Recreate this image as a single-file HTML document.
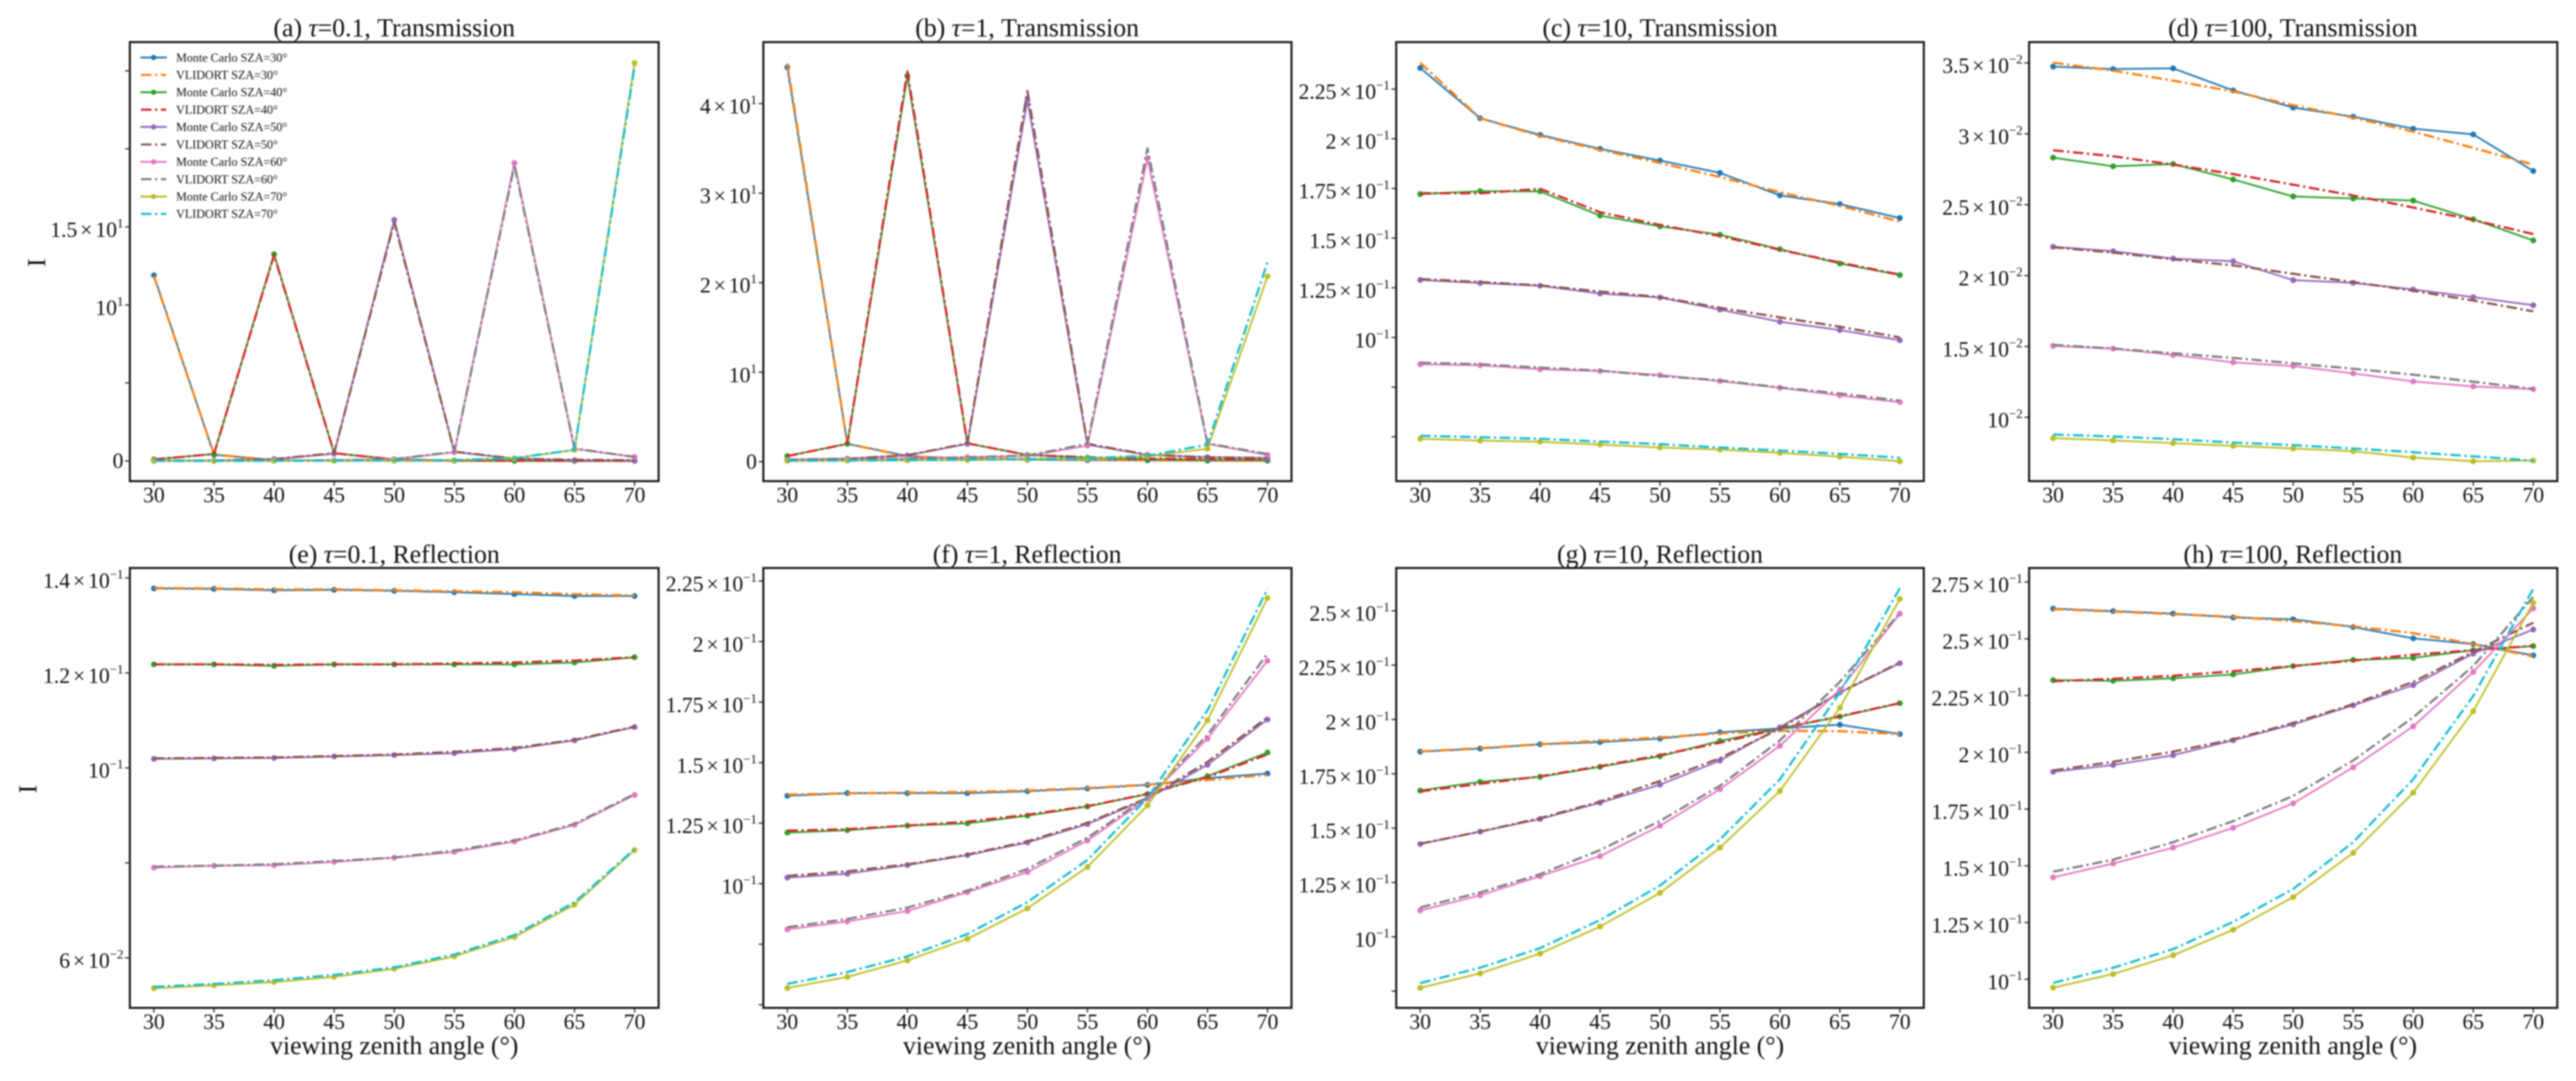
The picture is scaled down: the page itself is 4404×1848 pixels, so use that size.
<!DOCTYPE html>
<html lang="en">
<head>
<meta charset="utf-8">
<title>Monte Carlo vs VLIDORT radiance comparison</title>
<style>
html,body{margin:0;padding:0;background:#fff;width:4404px;height:1848px;overflow:hidden}
svg{display:block;filter:blur(1.2px)}
text{font-family:"Liberation Serif","DejaVu Serif",serif;fill:#111}
</style>
</head>
<body>
<svg id="figure" xmlns="http://www.w3.org/2000/svg" width="4404" height="1848" viewBox="0 0 4404 1848">
  <rect x="0" y="0" width="4404" height="1848" fill="#fff"/>
  <g id="plots"></g>

  <g font-size="44" text-anchor="middle">
    <text x="674" y="62">(a) <tspan font-style="italic">τ</tspan>=0.1, Transmission</text>
    <text x="1756" y="62">(b) <tspan font-style="italic">τ</tspan>=1, Transmission</text>
    <text x="2838" y="62">(c) <tspan font-style="italic">τ</tspan>=10, Transmission</text>
    <text x="3920" y="62">(d) <tspan font-style="italic">τ</tspan>=100, Transmission</text>
    <text x="674" y="962">(e) <tspan font-style="italic">τ</tspan>=0.1, Reflection</text>
    <text x="1756" y="962">(f) <tspan font-style="italic">τ</tspan>=1, Reflection</text>
    <text x="2838" y="962">(g) <tspan font-style="italic">τ</tspan>=10, Reflection</text>
    <text x="3920" y="962">(h) <tspan font-style="italic">τ</tspan>=100, Reflection</text>
  </g>

  <g font-size="44" text-anchor="middle">
    <text x="674" y="1802">viewing zenith angle (°)</text>
    <text x="1756" y="1802">viewing zenith angle (°)</text>
    <text x="2838" y="1802">viewing zenith angle (°)</text>
    <text x="3920" y="1802">viewing zenith angle (°)</text>
  </g>

  <g font-size="44" text-anchor="middle">
    <text transform="translate(77,449) rotate(-90)">I</text>
    <text transform="translate(62,1349) rotate(-90)">I</text>
  </g>

  <g font-size="20.7">
    <g><line x1="240" x2="285" y1="98.3" y2="98.3" stroke="#1f77b4" stroke-width="3.2"/><circle cx="262.5" cy="98.3" r="4.5" fill="#1f77b4"/><text x="301" y="105.3">Monte Carlo SZA=30°</text></g>
    <g><line x1="241" x2="284" y1="128" y2="128" stroke="#ff7f0e" stroke-width="3.6" stroke-dasharray="18 6 4 6"/><text x="301" y="135">VLIDORT SZA=30°</text></g>
    <g><line x1="240" x2="285" y1="157.7" y2="157.7" stroke="#2ca02c" stroke-width="3.2"/><circle cx="262.5" cy="157.7" r="4.5" fill="#2ca02c"/><text x="301" y="164.7">Monte Carlo SZA=40°</text></g>
    <g><line x1="241" x2="284" y1="187.4" y2="187.4" stroke="#d62728" stroke-width="3.6" stroke-dasharray="18 6 4 6"/><text x="301" y="194.4">VLIDORT SZA=40°</text></g>
    <g><line x1="240" x2="285" y1="217" y2="217" stroke="#9467bd" stroke-width="3.2"/><circle cx="262.5" cy="217" r="4.5" fill="#9467bd"/><text x="301" y="224">Monte Carlo SZA=50°</text></g>
    <g><line x1="241" x2="284" y1="247" y2="247" stroke="#8c564b" stroke-width="3.6" stroke-dasharray="18 6 4 6"/><text x="301" y="254">VLIDORT SZA=50°</text></g>
    <g><line x1="240" x2="285" y1="276.7" y2="276.7" stroke="#e377c2" stroke-width="3.2"/><circle cx="262.5" cy="276.7" r="4.5" fill="#e377c2"/><text x="301" y="283.7">Monte Carlo SZA=60°</text></g>
    <g><line x1="241" x2="284" y1="306.3" y2="306.3" stroke="#7f7f7f" stroke-width="3.6" stroke-dasharray="18 6 4 6"/><text x="301" y="313.3">VLIDORT SZA=60°</text></g>
    <g><line x1="240" x2="285" y1="336" y2="336" stroke="#bcbd22" stroke-width="3.2"/><circle cx="262.5" cy="336" r="4.5" fill="#bcbd22"/><text x="301" y="343">Monte Carlo SZA=70°</text></g>
    <g><line x1="241" x2="284" y1="365.7" y2="365.7" stroke="#17becf" stroke-width="3.6" stroke-dasharray="18 6 4 6"/><text x="301" y="372.7">VLIDORT SZA=70°</text></g>
  </g>
</svg>

<script>
// Shared categories and x tick labels
const viewingAngles = [30, 35, 40, 45, 50, 55, 60, 65, 70];
const seriesNames = ['mc-30', 'vlidort-30', 'mc-40', 'vlidort-40', 'mc-50', 'vlidort-50', 'mc-60', 'vlidort-60', 'mc-70', 'vlidort-70'];

// Panel (a) tau=0.1 transmission
const valuesA = [
  [11.9, 0.4, 0.05, 0.03, 0.02, 0.02, 0.01, 0.01, 0.01],
  [11.85, 0.42, 0.05, 0.03, 0.02, 0.02, 0.01, 0.01, 0.01],
  [0.1, 0.45, 13.25, 0.5, 0.1, 0.03, 0.02, 0.01, 0.01],
  [0.1, 0.45, 13.2, 0.5, 0.1, 0.03, 0.02, 0.01, 0.01],
  [0.02, 0.03, 0.12, 0.47, 15.45, 0.58, 0.15, 0.05, 0.03],
  [0.02, 0.03, 0.12, 0.5, 15.3, 0.6, 0.15, 0.08, 0.05],
  [0.01, 0.01, 0.02, 0.05, 0.12, 0.56, 19.1, 0.77, 0.26],
  [0.01, 0.01, 0.02, 0.05, 0.12, 0.58, 18.95, 0.8, 0.26],
  [0, 0, 0.01, 0.01, 0.03, 0.05, 0.17, 0.71, 25.5],
  [0.01, 0.01, 0.01, 0.02, 0.04, 0.06, 0.18, 0.72, 25.3]
];
const domainA = [-1.29, 26.84];
const ticksA = [0, 5, 10, 15, 20, 25];
const tickLabelsA = ['0', '', '10^1', '1.5×10^1', '', ''];

// Panel (b) tau=1 transmission
const valuesB = [
  [44.05, 2, 0.64, 0.3, 0.22, 0.18, 0.15, 0.12, 0.12],
  [44.5, 2, 0.6, 0.35, 0.3, 0.25, 0.15, 0.12, 0.1],
  [0.64, 2, 43.1, 2.05, 0.75, 0.45, 0.3, 0.22, 0.18],
  [0.62, 2, 43.6, 2.05, 0.75, 0.5, 0.35, 0.3, 0.25],
  [0.22, 0.33, 0.7, 2, 40.4, 1.9, 0.75, 0.5, 0.4],
  [0.22, 0.33, 0.72, 2.05, 41.4, 2, 0.78, 0.5, 0.42],
  [0.15, 0.22, 0.33, 0.5, 0.65, 1.8, 33.9, 2, 0.75],
  [0.15, 0.22, 0.33, 0.5, 0.68, 2, 35, 2.05, 0.85],
  [0.08, 0.12, 0.15, 0.18, 0.26, 0.33, 0.6, 1.45, 20.7],
  [0.1, 0.13, 0.18, 0.22, 0.3, 0.4, 0.65, 1.9, 22.3]
];
const domainB = [-2.17, 46.87];
const ticksB = [0, 10, 20, 30, 40];
const tickLabelsB = ['0', '10^1', '2×10^1', '3×10^1', '4×10^1'];

// Panel (c) tau=10 transmission
const valuesC = [
  [0.2356, 0.2103, 0.2019, 0.1949, 0.1890, 0.1828, 0.1715, 0.1671, 0.1601],
  [0.2382, 0.2103, 0.2014, 0.1944, 0.1878, 0.1807, 0.1731, 0.1662, 0.1583],
  [0.1721, 0.1736, 0.1735, 0.1613, 0.1559, 0.1517, 0.1444, 0.1372, 0.1314],
  [0.1726, 0.1725, 0.1748, 0.1630, 0.1566, 0.1510, 0.1441, 0.1377, 0.1316],
  [0.1289, 0.1274, 0.1260, 0.1221, 0.1201, 0.1140, 0.1079, 0.1037, 0.0986],
  [0.1294, 0.1279, 0.1262, 0.1231, 0.1203, 0.1149, 0.1101, 0.1054, 0.1000],
  [0.0865, 0.0860, 0.0840, 0.0831, 0.0811, 0.0780, 0.0747, 0.0708, 0.0674],
  [0.0873, 0.0865, 0.0848, 0.0833, 0.0806, 0.0784, 0.0748, 0.0718, 0.0682],
  [0.0490, 0.0481, 0.0475, 0.0461, 0.0446, 0.0436, 0.0419, 0.0400, 0.0377],
  [0.0505, 0.0498, 0.0490, 0.0476, 0.0463, 0.0446, 0.0431, 0.0414, 0.0395]
];
const domainC = [0.0277, 0.2486];
const ticksC = [0.05, 0.075, 0.1, 0.125, 0.15, 0.175, 0.2, 0.225];
const tickLabelsC = ['', '', '10^−1', '1.25×10^−1', '1.5×10^−1', '1.75×10^−1', '2×10^−1', '2.25×10^−1'];

// Panel (d) tau=100 transmission
const valuesD = [
  [0.03474, 0.03457, 0.03462, 0.03306, 0.03185, 0.03121, 0.03036, 0.02996, 0.02738],
  [0.03502, 0.03446, 0.03375, 0.03299, 0.03202, 0.03114, 0.03015, 0.02901, 0.02783],
  [0.02832, 0.02771, 0.02787, 0.02678, 0.02558, 0.02544, 0.02529, 0.02397, 0.02248],
  [0.02884, 0.02842, 0.02783, 0.02716, 0.02641, 0.02565, 0.02480, 0.02392, 0.02293],
  [0.02203, 0.02172, 0.0212, 0.02101, 0.01968, 0.01949, 0.01902, 0.01848, 0.01791],
  [0.0220, 0.02162, 0.02115, 0.02072, 0.02013, 0.01954, 0.01893, 0.01824, 0.01748],
  [0.01504, 0.01485, 0.0144, 0.01388, 0.01362, 0.0131, 0.01253, 0.01218, 0.01199],
  [0.01511, 0.01485, 0.01452, 0.01419, 0.01381, 0.01343, 0.01301, 0.01251, 0.01201],
  [0.00853, 0.00837, 0.00818, 0.00799, 0.0078, 0.00761, 0.00716, 0.0069, 0.00695],
  [0.00879, 0.00865, 0.00846, 0.00822, 0.00804, 0.0078, 0.00754, 0.00725, 0.00695]
];
const domainD = [0.0055, 0.03647];
const ticksD = [0.01, 0.015, 0.02, 0.025, 0.03, 0.035];
const tickLabelsD = ['10^−2', '1.5×10^−2', '2×10^−2', '2.5×10^−2', '3×10^−2', '3.5×10^−2'];

// Panel (e) tau=0.1 reflection
const valuesE = [
  [0.1378, 0.1377, 0.1374, 0.1375, 0.1373, 0.1370, 0.1366, 0.1362, 0.1362],
  [0.1379, 0.1378, 0.1376, 0.1376, 0.1374, 0.1372, 0.1370, 0.1366, 0.1363],
  [0.1218, 0.1218, 0.1215, 0.1218, 0.1218, 0.1218, 0.1218, 0.1222, 0.1233],
  [0.1218, 0.1218, 0.1217, 0.1218, 0.1218, 0.1220, 0.1222, 0.1226, 0.1233],
  [0.1019, 0.1020, 0.1021, 0.1024, 0.1027, 0.1031, 0.1040, 0.1058, 0.1086],
  [0.1020, 0.1021, 0.1022, 0.1025, 0.1028, 0.1034, 0.1042, 0.1059, 0.1087],
  [0.0790, 0.0794, 0.0795, 0.0802, 0.0811, 0.0823, 0.0845, 0.0880, 0.0943],
  [0.0792, 0.0794, 0.0797, 0.0804, 0.0811, 0.0826, 0.0847, 0.0882, 0.0945],
  [0.0536, 0.0542, 0.0549, 0.0560, 0.0577, 0.0603, 0.0644, 0.0712, 0.0827],
  [0.0539, 0.0545, 0.0553, 0.0564, 0.0580, 0.0607, 0.0648, 0.0717, 0.0829]
];
const domainE = [0.04946, 0.1421];
const ticksE = [0.06, 0.08, 0.1, 0.12, 0.14];
const tickLabelsE = ['6×10^−2', '', '10^−1', '1.2×10^−1', '1.4×10^−1'];

// Panel (f) tau=1 reflection
const valuesF = [
  [0.1363, 0.1374, 0.1374, 0.1374, 0.1382, 0.1393, 0.1408, 0.1436, 0.1455],
  [0.1368, 0.1373, 0.1376, 0.1379, 0.1385, 0.1395, 0.1409, 0.1428, 0.1449],
  [0.1211, 0.1221, 0.1240, 0.1249, 0.1281, 0.1319, 0.1370, 0.1444, 0.1542],
  [0.1219, 0.1225, 0.1240, 0.1256, 0.1285, 0.1320, 0.1371, 0.1440, 0.1534],
  [0.1025, 0.1041, 0.1077, 0.1118, 0.1170, 0.1246, 0.1351, 0.1491, 0.1678],
  [0.1032, 0.1051, 0.1080, 0.1120, 0.1175, 0.1251, 0.1354, 0.1503, 0.1687],
  [0.0811, 0.0844, 0.0887, 0.0965, 0.1048, 0.1178, 0.1351, 0.1599, 0.1921],
  [0.0820, 0.0854, 0.0901, 0.0971, 0.1061, 0.1190, 0.1358, 0.1614, 0.1950],
  [0.0569, 0.0615, 0.0683, 0.0772, 0.0898, 0.1069, 0.1323, 0.1675, 0.2180],
  [0.0586, 0.0635, 0.0700, 0.0792, 0.0924, 0.1098, 0.1354, 0.1716, 0.2218]
];
const domainF = [0.0487, 0.2304];
const ticksF = [0.05, 0.075, 0.1, 0.125, 0.15, 0.175, 0.2, 0.225];
const tickLabelsF = ['', '', '10^−1', '1.25×10^−1', '1.5×10^−1', '1.75×10^−1', '2×10^−1', '2.25×10^−1'];

// Panel (g) tau=10 reflection
const valuesG = [
  [0.1852, 0.1866, 0.1886, 0.1896, 0.1912, 0.1941, 0.1959, 0.1976, 0.1933],
  [0.1853, 0.1868, 0.1886, 0.1902, 0.1917, 0.1936, 0.1948, 0.1946, 0.1933],
  [0.1673, 0.1713, 0.1736, 0.1782, 0.1831, 0.1901, 0.1959, 0.2013, 0.2075],
  [0.1669, 0.1704, 0.1738, 0.1785, 0.1836, 0.1893, 0.1958, 0.2015, 0.2075],
  [0.1427, 0.1484, 0.1542, 0.1617, 0.1700, 0.1811, 0.1964, 0.2124, 0.2259],
  [0.1428, 0.1484, 0.1546, 0.1622, 0.1717, 0.1822, 0.1958, 0.2124, 0.2262],
  [0.1121, 0.1191, 0.1279, 0.1371, 0.1511, 0.1679, 0.1879, 0.2137, 0.2487],
  [0.1135, 0.1204, 0.1288, 0.1399, 0.1533, 0.1695, 0.1904, 0.2173, 0.2490],
  [0.0765, 0.0832, 0.0923, 0.1047, 0.1202, 0.1410, 0.1671, 0.2054, 0.2555],
  [0.0787, 0.0858, 0.0948, 0.1077, 0.1236, 0.1448, 0.1725, 0.2124, 0.2604]
];
const domainG = [0.0673, 0.2697];
const ticksG = [0.075, 0.1, 0.125, 0.15, 0.175, 0.2, 0.225, 0.25];
const tickLabelsG = ['', '10^−1', '1.25×10^−1', '1.5×10^−1', '1.75×10^−1', '2×10^−1', '2.25×10^−1', '2.5×10^−1'];

// Panel (h) tau=100 reflection
const valuesH = [
  [0.2633, 0.2622, 0.2611, 0.2594, 0.2586, 0.2552, 0.2502, 0.2477, 0.2427],
  [0.2631, 0.2620, 0.2609, 0.2597, 0.2578, 0.2555, 0.2525, 0.2477, 0.2422],
  [0.2318, 0.2315, 0.2326, 0.2343, 0.2380, 0.2407, 0.2416, 0.2450, 0.2468],
  [0.2313, 0.2324, 0.2337, 0.2357, 0.2380, 0.2404, 0.2430, 0.2450, 0.2469],
  [0.1914, 0.1944, 0.1987, 0.2053, 0.2123, 0.2207, 0.2296, 0.2435, 0.2541],
  [0.1920, 0.1958, 0.2003, 0.2057, 0.2129, 0.2212, 0.2310, 0.2443, 0.2571],
  [0.1449, 0.1510, 0.1580, 0.1667, 0.1775, 0.1934, 0.2114, 0.2354, 0.2634],
  [0.1474, 0.1527, 0.1604, 0.1697, 0.1808, 0.1964, 0.2154, 0.2380, 0.2684],
  [0.0963, 0.1023, 0.1106, 0.1218, 0.1362, 0.1557, 0.1822, 0.2181, 0.2659],
  [0.0984, 0.1051, 0.1133, 0.1253, 0.1398, 0.1604, 0.1881, 0.2248, 0.2720]
];
const domainH = [0.0874, 0.2812];
const ticksH = [0.1, 0.125, 0.15, 0.175, 0.2, 0.225, 0.25, 0.275];
const tickLabelsH = ['10^−1', '1.25×10^−1', '1.5×10^−1', '1.75×10^−1', '2×10^−1', '2.25×10^−1', '2.5×10^−1', '2.75×10^−1'];

// ----- layout and drawing -----
const SVG_NS = 'http://www.w3.org/2000/svg';
const seriesColors = ['#1f77b4', '#ff7f0e', '#2ca02c', '#d62728', '#9467bd', '#8c564b', '#e377c2', '#7f7f7f', '#bcbd22', '#17becf'];
const xDomain = [28, 72];
const columns = [[222, 1126], [1305, 2208], [2387, 3289], [3469, 4372]];
const rows = [[72, 822.5], [971, 1723]];
const panels = [
  { id: 'a', col: 0, row: 0, values: valuesA, domain: domainA, ticks: ticksA, labels: tickLabelsA },
  { id: 'b', col: 1, row: 0, values: valuesB, domain: domainB, ticks: ticksB, labels: tickLabelsB },
  { id: 'c', col: 2, row: 0, values: valuesC, domain: domainC, ticks: ticksC, labels: tickLabelsC },
  { id: 'd', col: 3, row: 0, values: valuesD, domain: domainD, ticks: ticksD, labels: tickLabelsD },
  { id: 'e', col: 0, row: 1, values: valuesE, domain: domainE, ticks: ticksE, labels: tickLabelsE },
  { id: 'f', col: 1, row: 1, values: valuesF, domain: domainF, ticks: ticksF, labels: tickLabelsF },
  { id: 'g', col: 2, row: 1, values: valuesG, domain: domainG, ticks: ticksG, labels: tickLabelsG },
  { id: 'h', col: 3, row: 1, values: valuesH, domain: domainH, ticks: ticksH, labels: tickLabelsH }
];

function make(tag, parent, props) {
  const node = document.createElementNS(SVG_NS, tag);
  for (const key in props) node.setAttribute(key, props[key]);
  parent.appendChild(node);
  return node;
}

function linearScale(domain, range) {
  return function (v) {
    return range[0] + (v - domain[0]) / (domain[1] - domain[0]) * (range[1] - range[0]);
  };
}

function fillTickLabel(textEl, label) {
  const caret = label.indexOf('^');
  if (caret < 0) {
    textEl.textContent = label;
    return;
  }
  const base = label.slice(0, caret);
  const exponent = label.slice(caret + 1);
  const times = base.indexOf('×');
  if (times >= 0) {
    const mantissa = make('tspan', textEl, {});
    mantissa.textContent = base.slice(0, times);
    const cross = make('tspan', textEl, { dx: 5 });
    cross.textContent = '×';
    const ten = make('tspan', textEl, { dx: 5 });
    ten.textContent = base.slice(times + 1);
  } else {
    const ten = make('tspan', textEl, {});
    ten.textContent = base;
  }
  const sup = make('tspan', textEl, { dy: -16, 'font-size': 22 });
  sup.textContent = exponent;
}

const plotsRoot = document.getElementById('plots');

panels.forEach(function (panel) {
  const xRange = columns[panel.col];
  const yRange = rows[panel.row];
  const left = xRange[0], right = xRange[1], top = yRange[0], bottom = yRange[1];
  const xScale = linearScale(xDomain, [left, right]);
  const yScale = linearScale(panel.domain, [bottom, top]);

  const group = make('g', plotsRoot, {});
  
  

  const marks = make('g', group, {});
  
  

  panel.values.forEach(function (series, s) {
    const isMonteCarlo = s % 2 === 0;
    const path = make('polyline', marks, {
      points: series.map(function (v, i) { return xScale(viewingAngles[i]).toFixed(2) + ',' + yScale(v).toFixed(2); }).join(' '),
      fill: 'none',
      stroke: seriesColors[s],
      'stroke-width': isMonteCarlo ? 3.2 : 3.8,
      'stroke-opacity': isMonteCarlo ? 0.92 : 1,
      'stroke-linejoin': 'round'
    });
    if (!isMonteCarlo) path.setAttribute('stroke-dasharray', '18 6 4 6');
    
    

    if (isMonteCarlo) {
      series.forEach(function (v, i) {
        const dot = make('circle', marks, {
          cx: xScale(viewingAngles[i]).toFixed(2),
          cy: yScale(v).toFixed(2),
          r: 5,
          fill: seriesColors[s]
        });
        
        
      });
    }
  });

  const frame = make('rect', group, {
    x: left, y: top, width: right - left, height: bottom - top,
    fill: 'none', stroke: '#1c1c1c', 'stroke-width': 3.6
  });
  
  

  viewingAngles.forEach(function (angle) {
    const x = xScale(angle);
    const tick = make('line', group, { x1: x, x2: x, y1: bottom, y2: bottom + 8, stroke: '#222', 'stroke-width': 2 });
    
    
    const label = make('text', group, { x: x, y: bottom + 36, 'font-size': 37, 'text-anchor': 'middle' });
    label.textContent = String(angle);
    
    
  });

  panel.ticks.forEach(function (value, t) {
    const y = yScale(value);
    const tick = make('line', group, { x1: left - 8, x2: left, y1: y, y2: y, stroke: '#222', 'stroke-width': 2 });
    
    
    const text = panel.labels[t];
    if (text) {
      const hasExponent = text.indexOf('^') >= 0;
      const label = make('text', group, { x: left - 11, y: y + (hasExponent ? 17 : 12), 'font-size': 37, 'text-anchor': 'end' });
      fillTickLabel(label, text);
      
      
    }
  });
});
</script>
</body>
</html>
